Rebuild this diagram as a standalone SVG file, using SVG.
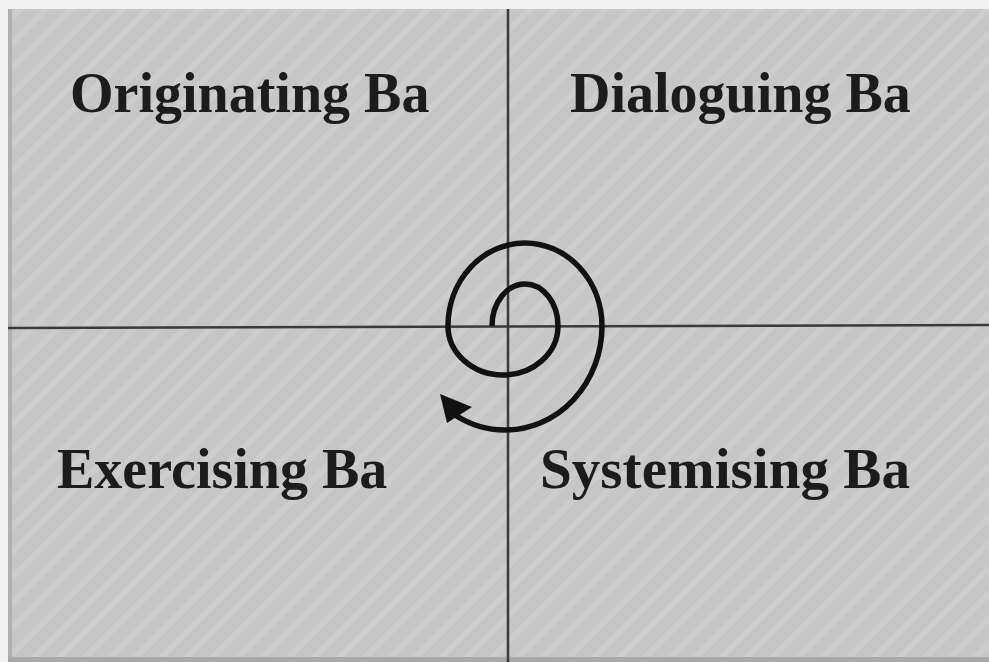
<svg xmlns="http://www.w3.org/2000/svg" width="989" height="662" viewBox="0 0 989 662">
<style>
.lbl{font-family:"Liberation Serif","Times New Roman",serif;font-weight:bold;font-size:56px;fill:#1c1c1c}
.axis{stroke:#3a3a3a;stroke-width:2.5;fill:none}
.spiral{stroke:#111;stroke-width:5.5;fill:none;stroke-linecap:butt}
.head{fill:#111}
</style>
<defs>
<pattern id="hatch" width="18" height="18" patternUnits="userSpaceOnUse" patternTransform="rotate(-45)">
<rect width="18" height="18" fill="#c6c6c6"/>
<rect width="18" height="6" fill="#cdcdcd"/>
</pattern>
</defs>
<rect width="989" height="662" fill="#f2f2f2"/>
<rect x="8" y="9" width="981" height="653" fill="url(#hatch)"/>
<rect x="8" y="9" width="4" height="653" fill="#b0b0b0"/>
<rect x="8" y="657" width="981" height="5" fill="#a8a8a8"/>
<g id="connectors">
<line class="axis" x1="8" y1="328" x2="989" y2="325"/>
<line class="axis" x1="508" y1="9" x2="508" y2="662"/>
<path class="spiral" d="M492,326 A33,42 0 0 1 558,326 A55,49 0 0 1 448,326 A77,83 0 0 1 602,326 A97,104 0 0 1 505,430 A97,104 0 0 1 455,415"/>
<polygon class="head" points="440,394 472,407 447,423"/>
</g>
<g id="originating"><text class="lbl" x="70" y="112">Originating Ba</text></g>
<g id="dialoguing"><text class="lbl" x="570" y="112">Dialoguing Ba</text></g>
<g id="exercising"><text class="lbl" x="57" y="488">Exercising Ba</text></g>
<g id="systemising"><text class="lbl" x="540" y="488" textLength="370" lengthAdjust="spacingAndGlyphs">Systemising Ba</text></g>
</svg>
